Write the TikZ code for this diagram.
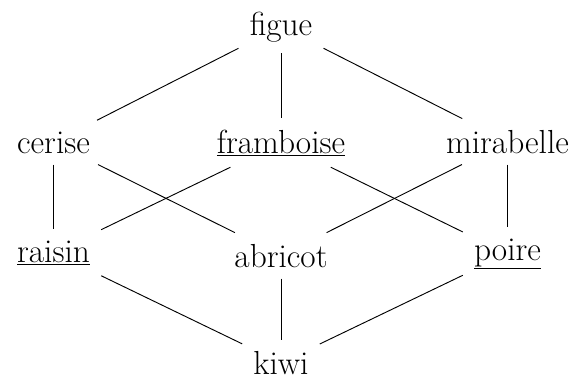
\documentclass[tikz,border=0pt]{standalone}
\begin{document}
\begin{tikzpicture}[x=0.75pt,y=-0.75pt,
  fruit/.style={anchor=base,inner sep=8.25pt,font=\fontsize{25}{30}\selectfont},
  edge/.style={line width=0.7pt}]
\useasboundingbox (0,0) rectangle (575,380);
\node[fruit] (figue) at (281,35) {figue};
\node[fruit] (cerise) at (53.5,153) {cerise};
\node[fruit] (framboise) at (281,153) {\underline{framboise}};
\node[fruit] (mirabelle) at (507.5,153) {mirabelle};
\node[fruit] (raisin) at (53.5,262) {\underline{raisin}};
\node[fruit] (abricot) at (281,267) {abricot};
\node[fruit] (poire) at (507.5,260) {\underline{poire}};
\node[fruit] (kiwi) at (281,374) {kiwi};
\draw[edge] (figue) -- (cerise);
\draw[edge] (figue) -- (framboise);
\draw[edge] (figue) -- (mirabelle);
\draw[edge] (cerise) -- (raisin);
\draw[edge] (cerise) -- (abricot);
\draw[edge] (framboise) -- (raisin);
\draw[edge] (framboise) -- (poire);
\draw[edge] (mirabelle) -- (abricot);
\draw[edge] (mirabelle) -- (poire);
\draw[edge] (raisin) -- (kiwi);
\draw[edge] (abricot) -- (kiwi);
\draw[edge] (poire) -- (kiwi);
\end{tikzpicture}
\end{document}
